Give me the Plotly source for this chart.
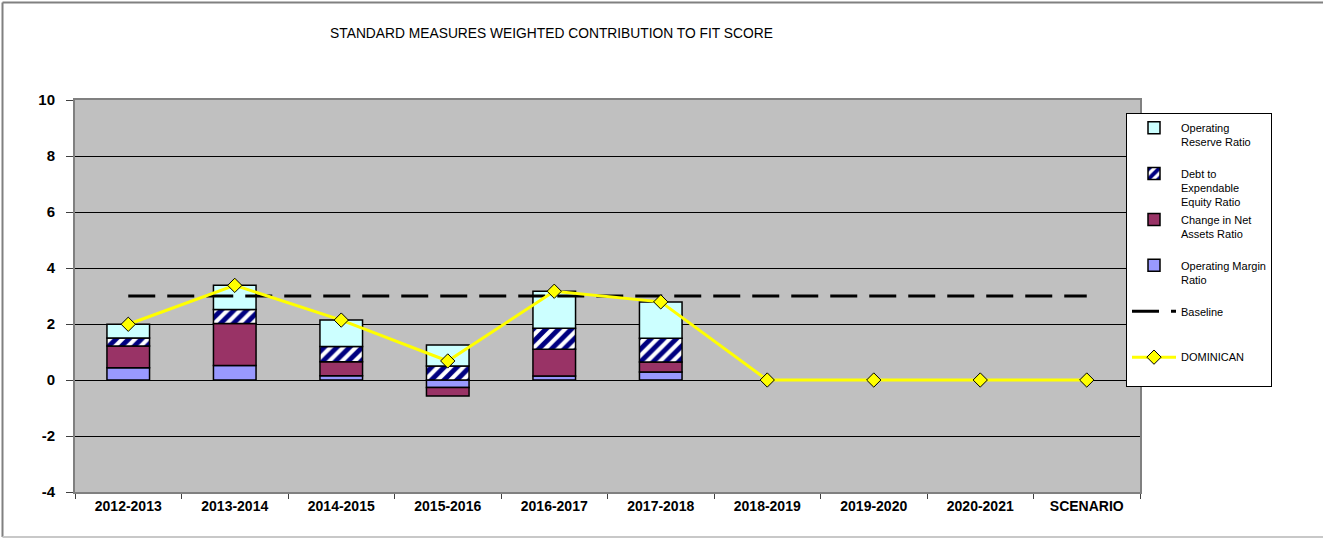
import plotly.graph_objects as go

# Fiscal years plus the scenario column
categories = ["2012-2013", "2013-2014", "2014-2015", "2015-2016", "2016-2017",
              "2017-2018", "2018-2019", "2019-2020", "2020-2021", "SCENARIO"]

# Weighted contribution of each standard measure
operating_margin = [0.44, 0.52, 0.15, -0.27, 0.14, 0.29, 0, 0, 0, 0]
change_net_assets = [0.77, 1.50, 0.50, -0.30, 0.96, 0.35, 0, 0, 0, 0]
debt_expendable = [0.29, 0.50, 0.55, 0.50, 0.75, 0.85, 0, 0, 0, 0]
operating_reserve = [0.49, 0.86, 0.94, 0.75, 1.32, 1.30, 0, 0, 0, 0]

# Composite fit score and the reference baseline
dominican = [1.99, 3.38, 2.14, 0.68, 3.17, 2.79, 0, 0, 0, 0]
baseline = [3] * len(categories)

y_ticks = [-4, -2, 0, 2, 4, 6, 8, 10]

FIG_W, FIG_H = 1323, 538
M_L, M_R, M_T, M_B = 75, 183, 100, 46
PW = FIG_W - M_L - M_R
PH = FIG_H - M_T - M_B
FONT = "Liberation Sans, Arial, sans-serif"


def px_x(p):
    return (p - M_L) / PW


def px_y(p):
    return (FIG_H - M_B - p) / PH


def no_zero(values):
    # empty columns carry no visible segment
    return [v if v != 0 else None for v in values]


outline = dict(color="black", width=1.5)
fig = go.Figure()

fig.add_bar(x=categories, y=no_zero(operating_margin), name="Operating Margin<br>Ratio<br> ",
            marker=dict(color="#9999FF", line=outline), width=0.4, legendrank=4)
fig.add_bar(x=categories, y=no_zero(change_net_assets), name="Change in Net<br>Assets Ratio<br> ",
            marker=dict(color="#993366", line=outline), width=0.4, legendrank=3)
fig.add_bar(x=categories, y=no_zero(debt_expendable), name="Debt to<br>Expendable<br>Equity Ratio",
            marker=dict(color="white", line=outline,
                        pattern=dict(shape="/", fgcolor="#000080", bgcolor="white",
                                     fgopacity=1, size=9, solidity=0.55,
                                     fillmode="replace")),
            width=0.4, legendrank=2)
fig.add_bar(x=categories, y=no_zero(operating_reserve), name="Operating<br>Reserve Ratio<br> ",
            marker=dict(color="#CCFFFF", line=outline), width=0.4, legendrank=1)

fig.add_scatter(x=categories, y=baseline, mode="lines", name="Baseline<br> <br> ",
                line=dict(color="black", width=3, dash="27px,12px"), legendrank=5)
fig.add_scatter(x=categories, y=dominican, mode="lines+markers", name="DOMINICAN<br> ",
                line=dict(color="#FFFF00", width=3),
                marker=dict(symbol="diamond", size=11, color="#FFFF00",
                            line=dict(color="black", width=1)),
                legendrank=6)

border = dict(color="#808080", width=2)
fig.update_layout(
    width=FIG_W, height=FIG_H,
    margin=dict(l=M_L, r=M_R, t=M_T, b=M_B),
    barmode="relative",
    paper_bgcolor="white",
    plot_bgcolor="#C0C0C0",
    font=dict(family=FONT, color="black"),
    title=dict(text="STANDARD MEASURES WEIGHTED CONTRIBUTION TO FIT SCORE",
               xref="container", x=551.5 / FIG_W, xanchor="center",
               y=1 - 33 / FIG_H, yanchor="middle",
               font=dict(size=13.8, family=FONT)),
    legend=dict(x=px_x(1126), xanchor="left", y=px_y(113), yanchor="top",
                bgcolor="white", bordercolor="black", borderwidth=1,
                font=dict(size=11), valign="top", tracegroupgap=0,
                itemwidth=44, traceorder="normal"),
    showlegend=True,
    xaxis=dict(type="category", range=[-0.5, len(categories) - 0.5],
               tickson="boundaries", ticks="outside", ticklen=5,
               tickcolor="#404040", showline=True, linecolor="#808080", linewidth=2,
               mirror=True, showgrid=False,
               tickfont=dict(size=14, family=FONT, weight="bold")),
    yaxis=dict(range=[-4, 10], tickmode="array", tickvals=y_ticks,
               ticktext=[str(v) for v in y_ticks],
               ticks="outside", ticklen=7, tickcolor="#404040",
               showline=True, linecolor="#808080", linewidth=2, mirror=True,
               gridcolor="black", gridwidth=1, zeroline=True, zerolinecolor="black",
               zerolinewidth=1, ticklabelstandoff=8,
               tickfont=dict(size=15, family=FONT, weight="bold")),
    shapes=[
        dict(type="line", xref="paper", yref="paper", x0=px_x(2.5), x1=px_x(1323),
             y0=px_y(2.5), y1=px_y(2.5), line=border, layer="below"),
        dict(type="line", xref="paper", yref="paper", x0=px_x(2.5), x1=px_x(2.5),
             y0=px_y(2.5), y1=px_y(537), line=border, layer="below"),
        dict(type="line", xref="paper", yref="paper", x0=px_x(2.5), x1=px_x(1323),
             y0=px_y(537), y1=px_y(537), line=dict(color="#C8C8C8", width=2),
             layer="below"),
    ],
)

fig.write_html("out.html")
